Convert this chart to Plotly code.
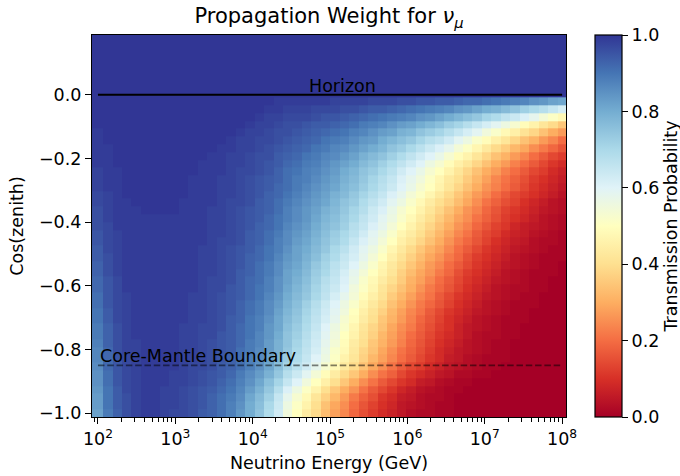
import numpy as np
import plotly.graph_objects as go

# ---------------- data ----------------
# grid of the map: 50 energies (log10 E/GeV) x 50 cos(zenith) rows
log10_energy = np.linspace(2, 8, 50)
cos_zenith = np.linspace(-1.0, 0.2, 50)

# transmission probability in percent, one list per cos(zenith) row (bottom -> top)
transmission_pct = [
    [82,89,93,96,98,99,99,98,97,97,96,94,93,91,88,84,80,75,69,63,55,50,44,39,33,28,24,19,15,12,9,7,5,3,2,2,1,1,0,0,0,0,0,0,0,0,0,0,0,0],
    [83,90,94,96,98,99,99,98,98,97,96,95,93,91,88,85,80,76,70,64,56,51,46,40,34,29,25,20,16,13,10,8,5,4,3,2,1,1,0,0,0,0,0,0,0,0,0,0,0,0],
    [83,90,94,96,98,99,99,98,98,97,96,95,93,91,89,86,81,77,72,65,58,53,48,42,37,32,27,22,18,15,11,9,6,5,3,2,2,1,0,0,0,0,0,0,0,0,0,0,0,0],
    [84,90,94,97,98,99,99,98,98,97,96,95,94,92,90,87,83,79,74,68,61,56,51,46,40,35,30,26,21,17,14,11,8,6,4,3,2,1,1,0,0,0,0,0,0,0,0,0,0,0],
    [85,91,95,97,98,99,99,99,98,98,97,96,95,93,91,88,85,81,76,71,65,60,55,50,45,40,35,30,25,21,17,14,11,9,6,5,3,2,1,1,0,0,0,0,0,0,0,0,0,0],
    [85,91,95,97,98,99,99,99,98,98,97,96,95,94,92,89,86,83,79,74,68,64,59,54,49,44,39,35,30,25,21,18,14,11,9,7,5,4,2,2,1,1,0,0,0,0,0,0,0,0],
    [86,92,95,97,98,99,99,99,99,98,97,97,96,94,93,91,88,85,81,76,71,67,63,58,53,48,43,39,34,29,25,21,17,14,12,9,7,5,4,3,2,1,1,0,0,0,0,0,0,0],
    [87,92,95,97,98,99,99,99,99,98,98,97,96,95,93,91,88,86,82,78,73,69,65,60,56,51,46,42,37,32,28,24,20,17,14,11,9,6,5,3,2,1,1,1,0,0,0,0,0,0],
    [87,92,96,98,98,99,99,99,99,98,98,97,96,95,94,91,89,86,83,79,74,70,66,62,57,52,48,43,38,34,29,25,21,18,15,12,9,7,5,4,3,2,1,1,0,0,0,0,0,0],
    [88,93,96,98,98,99,99,99,99,98,98,97,96,95,94,92,89,87,83,79,75,71,67,63,58,54,49,44,40,35,31,27,23,19,16,13,10,8,6,4,3,2,1,1,0,0,0,0,0,0],
    [89,93,96,98,99,99,99,99,99,98,98,97,97,95,94,92,90,87,84,80,75,72,68,64,59,55,50,46,41,37,32,28,24,20,17,14,11,9,7,5,3,2,2,1,1,0,0,0,0,0],
    [89,93,96,98,99,99,99,99,99,98,98,97,97,96,94,92,90,88,84,81,76,73,69,65,60,56,52,47,42,38,34,29,25,22,18,15,12,10,7,5,4,3,2,1,1,0,0,0,0,0],
    [90,94,97,98,99,99,99,99,99,99,98,98,97,96,94,93,90,88,85,81,77,74,70,66,62,58,53,49,44,40,35,31,27,23,19,16,13,10,8,6,4,3,2,1,1,1,0,0,0,0],
    [90,94,97,98,99,99,99,99,99,99,98,98,97,96,95,93,91,89,86,82,78,75,71,67,63,59,55,50,45,41,37,32,28,24,21,17,14,11,9,7,5,4,3,2,1,1,0,0,0,0],
    [91,95,97,98,99,99,99,99,99,99,98,98,97,96,95,93,91,89,86,83,79,76,72,68,64,60,56,52,47,43,39,34,30,26,22,19,16,13,10,8,6,4,3,2,1,1,1,0,0,0],
    [91,95,97,98,99,99,99,99,99,99,98,98,97,96,95,94,92,90,87,84,80,77,74,70,66,62,58,54,49,45,41,36,32,28,24,21,17,14,11,9,7,5,4,3,2,1,1,0,0,0],
    [92,95,97,99,99,99,99,99,99,99,99,98,97,97,95,94,92,90,88,85,81,78,75,71,67,64,60,55,51,47,42,38,34,30,26,22,19,16,13,10,8,6,4,3,2,2,1,1,0,0],
    [92,95,97,99,99,99,99,99,99,99,99,98,97,97,96,94,92,91,88,85,82,79,76,72,68,65,61,57,52,48,44,40,36,31,28,24,20,17,14,11,9,7,5,4,3,2,1,1,0,0],
    [93,96,98,99,99,99,99,99,99,99,99,98,98,97,96,94,93,91,89,86,82,80,77,73,70,66,62,58,54,50,46,42,37,33,29,26,22,19,15,12,10,8,6,4,3,2,1,1,1,0],
    [93,96,98,99,99,99,99,99,99,99,99,98,98,97,96,95,93,91,89,86,83,81,78,74,71,67,64,60,56,52,47,43,39,35,31,27,24,20,17,14,11,9,7,5,4,3,2,1,1,0],
    [94,96,98,99,99,99,99,99,99,99,99,98,98,97,96,95,93,92,90,87,84,82,79,76,72,69,65,62,58,54,50,45,41,37,33,29,26,22,19,15,12,10,8,6,4,3,2,1,1,1],
    [94,97,98,99,99,99,99,99,99,99,99,98,98,97,96,95,94,92,90,88,85,82,80,77,74,70,67,63,59,56,52,47,43,39,35,31,28,24,20,17,14,11,9,7,5,4,3,2,1,1],
    [95,97,98,99,99,99,99,99,99,99,99,99,98,97,97,96,94,93,91,88,86,83,81,78,75,72,69,65,61,58,54,50,45,42,38,34,30,26,22,19,16,13,10,8,6,5,3,2,2,1],
    [95,97,98,99,99,99,99,99,99,99,99,99,98,98,97,96,94,93,91,89,86,84,82,79,76,73,70,67,63,59,56,52,47,44,40,36,32,28,24,21,17,14,12,9,7,6,4,3,2,1],
    [96,97,99,99,99,99,99,99,99,99,99,99,98,98,97,96,95,93,92,90,87,85,83,80,77,75,72,68,65,61,58,54,50,46,42,38,34,30,26,23,19,16,13,11,8,6,5,4,3,2],
    [96,98,99,99,99,99,99,99,99,99,99,99,98,98,97,96,95,94,92,90,88,86,84,81,78,76,73,70,66,63,59,56,52,48,44,40,36,32,28,25,21,18,15,12,10,8,6,4,3,2],
    [96,98,99,99,99,100,100,100,100,99,99,99,98,98,97,96,95,94,93,91,88,86,84,82,79,77,74,71,68,64,61,57,53,50,46,42,38,34,30,26,23,19,16,13,11,9,7,5,4,3],
    [97,98,99,99,100,100,100,100,100,99,99,99,99,98,97,97,96,94,93,91,89,87,85,83,81,78,75,73,69,66,63,59,56,52,48,44,40,37,33,29,25,21,18,15,13,10,8,6,4,3],
    [97,98,99,100,100,100,100,100,100,100,99,99,99,98,98,97,96,95,93,92,90,88,86,84,82,79,77,74,71,68,65,61,58,54,51,47,43,39,35,31,27,24,20,17,14,12,10,8,6,4],
    [98,99,99,100,100,100,100,100,100,100,99,99,99,98,98,97,96,95,94,92,91,89,87,85,83,81,78,76,73,70,67,64,60,57,53,50,46,42,38,34,30,26,23,20,17,14,11,9,7,5],
    [98,99,99,100,100,100,100,100,100,100,99,99,99,98,98,97,96,95,94,93,91,89,88,86,84,82,79,77,74,71,68,65,61,58,55,51,47,43,40,36,32,28,24,21,18,15,12,10,8,6],
    [98,99,99,100,100,100,100,100,100,100,100,99,99,99,98,97,97,96,95,93,91,90,88,87,85,83,80,78,75,73,70,67,63,60,57,53,50,46,42,38,34,30,27,23,20,17,14,12,9,7],
    [99,99,100,100,100,100,100,100,100,100,100,99,99,99,98,98,97,96,95,94,92,91,89,88,86,84,82,80,77,75,72,69,66,63,60,56,53,49,45,42,38,34,30,27,23,20,17,14,11,9],
    [99,99,100,100,100,100,100,100,100,100,100,100,99,99,98,98,97,96,96,94,93,92,90,89,87,86,84,82,79,77,75,72,69,66,63,60,57,53,49,46,42,38,34,31,27,24,20,17,14,12],
    [99,99,100,100,100,100,100,100,100,100,100,100,100,99,99,98,98,97,96,95,94,93,92,90,89,87,86,84,82,80,78,75,73,70,67,64,61,58,54,51,47,43,39,36,32,29,25,22,19,16],
    [99,100,100,100,100,100,100,100,100,100,100,100,100,100,99,98,98,97,97,96,95,94,93,92,90,89,88,86,84,83,80,78,76,74,71,68,66,63,59,56,52,49,45,42,38,34,31,27,24,20],
    [99,100,100,100,100,100,100,100,100,100,100,100,100,100,100,99,98,98,97,96,96,95,94,93,92,91,90,88,87,85,83,82,79,78,75,73,71,68,65,62,59,55,52,48,45,41,38,34,30,27],
    [100,100,100,100,100,100,100,100,100,100,100,100,100,100,100,100,99,98,98,97,96,96,95,94,94,93,92,91,89,88,87,85,83,82,80,78,76,73,71,68,65,62,59,56,53,49,46,42,39,35],
    [100,100,100,100,100,100,100,100,100,100,100,100,100,100,100,100,100,99,98,98,97,97,97,96,95,95,94,93,92,91,90,89,88,87,85,84,82,80,78,76,74,71,69,66,64,61,58,54,51,48],
    [100,100,100,100,100,100,100,100,100,100,100,100,100,100,100,100,100,100,99,99,98,98,98,97,97,97,96,96,95,94,94,93,92,91,90,89,88,87,85,84,82,80,79,77,75,72,70,68,65,62],
    [100,100,100,100,100,100,100,100,100,100,100,100,100,100,100,100,100,100,100,99,99,99,99,99,99,98,98,98,98,97,97,97,96,96,95,95,94,94,93,92,92,91,90,89,88,87,85,84,82,81],
] + [[100] * 50 for _ in range(9)]   # down-going directions: fully transmitted

x_tick_exponents = [2, 3, 4, 5, 6, 7, 8]
y_tick_values = [-1.0, -0.8, -0.6, -0.4, -0.2, 0.0]
y_tick_labels = ["\u22121.0", "\u22120.8", "\u22120.6", "\u22120.4", "\u22120.2", "0.0"]
cbar_tick_values = [0.0, 0.2, 0.4, 0.6, 0.8, 1.0]
horizon_cz = 0.0
core_mantle_cz = -0.85
horizon_label_energy = 5e4
cmb_label_energy = 1e2

# ---------------- figure ----------------
z = np.array(transmission_pct, dtype=float) / 100.0

energy = 10 ** log10_energy
e_edges = np.concatenate([
    [energy[0] - (energy[1] - energy[0]) / 2],
    (energy[:-1] + energy[1:]) / 2,
    [energy[-1] + (energy[-1] - energy[-2]) / 2],
])
x_edges = np.log10(e_edges)
dz = cos_zenith[1] - cos_zenith[0]
y_edges = np.concatenate([[cos_zenith[0] - dz / 2],
                          (cos_zenith[:-1] + cos_zenith[1:]) / 2,
                          [cos_zenith[-1] + dz / 2]])

rdylbu = ['rgb(165,0,38)', 'rgb(215,48,39)', 'rgb(244,109,67)', 'rgb(253,174,97)',
          'rgb(254,224,144)', 'rgb(255,255,191)', 'rgb(224,243,248)', 'rgb(171,217,233)',
          'rgb(116,173,209)', 'rgb(69,117,180)', 'rgb(49,54,149)']
colorscale = [[i / 10, c] for i, c in enumerate(rdylbu)]

FONT = "DejaVu Sans"
FS = 17.5

x_lo, x_hi = x_edges[0], x_edges[-1]
y_lo, y_hi = y_edges[0], 0.188

minor_vals = [np.log10(k * 10 ** n) for n in range(1, 8) for k in range(2, 10)]
minor_vals = [v for v in minor_vals if x_lo <= v <= x_hi]

L, R, T, B = 92, 114, 35, 59
plot_w = 680 - L - R

fig = go.Figure()
fig.add_trace(go.Heatmap(
    x=x_edges, y=y_edges, z=z,
    colorscale=colorscale, zmin=0, zmax=1,
    colorbar=dict(
        x=(595 - L) / plot_w, xanchor="left", xpad=0,
        y=0.5, yanchor="middle", ypad=0, len=1, lenmode="fraction",
        thickness=27, thicknessmode="pixels",
        outlinewidth=1.2, outlinecolor="black",
        tickvals=cbar_tick_values, ticktext=[f"{v:.1f}" for v in cbar_tick_values],
        ticks="outside", ticklen=6, tickwidth=1.2, tickcolor="black",
        tickfont=dict(family=FONT, size=FS, color="black"),
        title=dict(text="Transmission Probability", side="right",
                   font=dict(family=FONT, size=FS, color="black")),
    ),
    hoverinfo="skip",
))

fig.add_shape(type="line", xref="x", yref="y", x0=2, x1=8, y0=horizon_cz, y1=horizon_cz,
              line=dict(color="black", width=2))
fig.add_shape(type="line", xref="x", yref="y", x0=2, x1=8, y0=core_mantle_cz, y1=core_mantle_cz,
              line=dict(color="rgba(0,0,0,0.5)", width=1.75, dash="6.5px,2.8px"))

fig.add_annotation(x=np.log10(horizon_label_energy), y=horizon_cz, text="Horizon",
                   xanchor="left", yanchor="bottom", showarrow=False, yshift=-3,
                   font=dict(family=FONT, size=FS, color="black"))
fig.add_annotation(x=np.log10(cmb_label_energy), y=core_mantle_cz, text="Core-Mantle Boundary",
                   xanchor="left", yanchor="bottom", showarrow=False, yshift=-3,
                   font=dict(family=FONT, size=FS, color="black"))

fig.update_layout(
    width=680, height=476,
    margin=dict(l=L, r=R, t=T, b=B, autoexpand=False),
    paper_bgcolor="white", plot_bgcolor="white",
    font=dict(family=FONT, size=FS, color="black"),
    title=dict(text="Propagation Weight for <i>\u03bd</i><sub><i>\u03bc</i></sub>",
               x=0.5, xref="paper", xanchor="center",
               y=1 - 16 / 476, yref="container", yanchor="middle",
               font=dict(family=FONT, size=21, color="black")),
    xaxis=dict(
        range=[x_lo, x_hi], showgrid=False, zeroline=False,
        showline=True, mirror=True, linecolor="black", linewidth=1.2,
        tickvals=x_tick_exponents,
        ticktext=[f"10<sup>{e}</sup>" for e in x_tick_exponents],
        ticks="outside", ticklen=6, tickwidth=1.2, tickcolor="black",
        tickfont=dict(family=FONT, size=FS, color="black"),
        minor=dict(tickvals=minor_vals, ticks="outside", ticklen=3.5, tickwidth=1,
                   tickcolor="black", showgrid=False),
        title=dict(text="Neutrino Energy (GeV)", standoff=8,
                   font=dict(family=FONT, size=FS, color="black")),
    ),
    yaxis=dict(
        range=[y_lo, y_hi], showgrid=False, zeroline=False,
        showline=True, mirror=True, linecolor="black", linewidth=1.2,
        tickvals=y_tick_values, ticktext=y_tick_labels,
        ticks="outside", ticklen=6, tickwidth=1.2, tickcolor="black",
        tickfont=dict(family=FONT, size=FS, color="black"),
        title=dict(text="Cos(zenith)", standoff=10,
                   font=dict(family=FONT, size=FS, color="black")),
    ),
)

fig.write_html("out.html")
